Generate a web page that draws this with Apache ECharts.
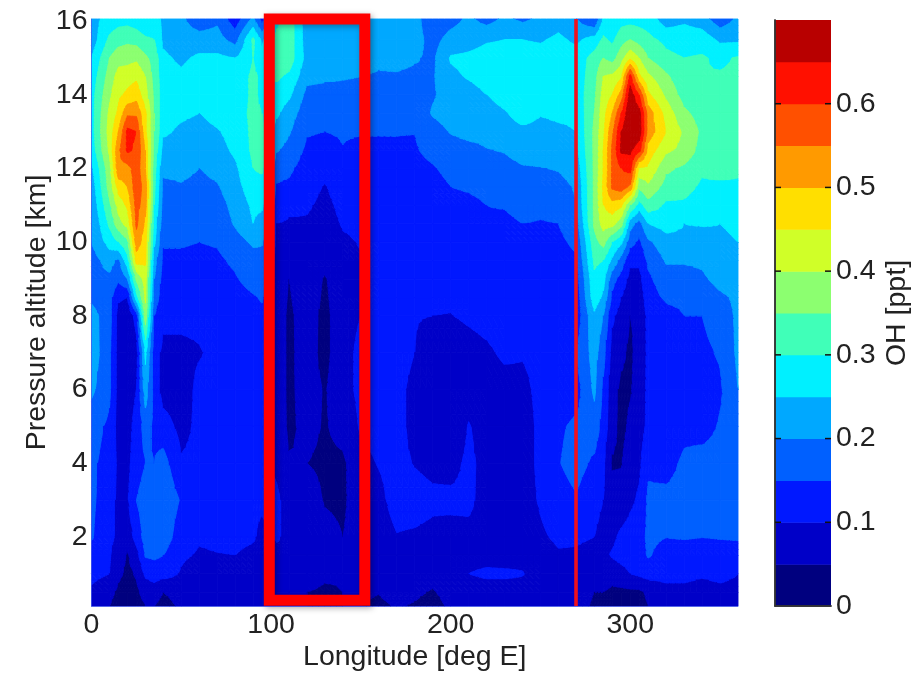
<!DOCTYPE html>
<html>
<head>
<meta charset="utf-8">
<title>OH</title>
<style>html,body{margin:0;padding:0;background:#fff}#c{width:920px;height:673px;filter:blur(0.45px)}</style>
<script src="https://cdn.jsdelivr.net/npm/echarts@6/dist/echarts.min.js"></script>
</head>
<body>
<div id="c"></div>
<script>
// Longitude [deg E] of each column
const longitudes = [0,10,15,20,25,30,35,40,50,60,70,80,90,95,103,110,120,130,140,150,160,170,180,190,200,210,220,230,240,250,260,270,280,285,290,295,300,305,310,320,330,340,350,360];
// Pressure altitude [km] of each value inside a column
const altitudes = [16.06,15.5,15,14.5,14,13.5,13,12.5,12,11.5,11,10.5,10,9.5,9,8.5,8,7,6,5,4,3,2,1.5,1,0.5,0.127];
// OH in hundredths of a ppt, one list per longitude
const ohColumns = [
[23,22,25,27,28,28,28,27,24,22,21,20,20,18,19,19,22,23,21,17,16,16,15.5,13,11.5,9,7.5],
[27,31,35,37,39,41,42,41,38,37,34,31,27,22,19,17,17,16,16,14,13,12,11,10.5,10,6.5,5],
[28,33,38,42,44,46,50,54,54,47,42,38,30,19,16,11,8,8,8,8,9,9,9.2,7.5,6,4,3],
[28,34,38,43,46,54,61.5,61,53,50,46,42,34,28,20,10,6,5,7,8,8.5,9.5,7,4.5,4,3,2],
[27,33,39,44,48,54,60,59,58,58,57,56,53,47,36,28,12,8,10,12,13,15,12,8,5.5,4,3],
[25,31,36,40,42,46,46,50,50,53,52,49,47,46,42,41,38,26,23,17,15,17,17,15.5,11,7,5],
[27,30,33,33,34,35,35,34,32,31,30,28,26,22,20,18,15,12,13,14,15,18,19,16,12,8,5],
[24,24,26,27,28,27,26,23,21,19,18,17,15.5,14,13,12,11,9,8,12,17,19,18,15,12,5,3],
[21,22,24,26,28,26,24,22,21.5,19.5,18,17,15.5,14,13,12,11,9,8,8.7,10.5,14.5,12,10.8,9.5,7,6],
[17,22,26,28,29,25,23,22,20,18.5,17,16,15,13.5,13,12,11,9.7,11,11,11,11.5,10.5,9.5,7,6.5,6],
[19,22,26,28,28,27,24.5,23,21.5,19.5,18,17,15.5,14,13,12,11,11,11.5,11,11,11,11,9.8,8,7,6],
[12,18,25,27,27,28,27,26,24,23,21.5,20.5,18,16,14.5,13,12,11,11,11,11,11,11,10,9,7,6],
[21,31,30,31,31,31,31,31,30,28,26,25,21,18,17,14.5,13,11,11,11,11,10.5,10.5,9,7,7,6],
[13,24,27,29,29,30,31,32,31,28,26,23,20.5,18,17,15.5,14,12,12,12,11.5,10.8,9,8.5,7,6,5],
[28,32,33,31,28,26,23,20.5,17,14.5,12.5,10,9,8.5,8,8,8,8,8,8.5,9,11,10.5,9,8,7.5,7],
[33,34,33,29,26,22.5,20.5,18.5,16,14,11,9.5,8.5,6,5,4.5,4,4,4,4,5.5,8,9,9,9,7,6],
[22,22,23,21.5,18.5,17,15.5,14,12.5,11.5,10.5,9.5,8.5,8,8,8,7.5,7,7,6.5,5,8,8.5,9,8,5,5],
[22,22,22,21,18,16.5,15,13,11.5,9.7,9,8.5,8,7,4.5,4,3.5,3.5,4.6,4.5,4,4.5,7,8,6,4,3],
[22,22,22,20.5,18,16,15.5,14.8,13,12,11,10.3,9.5,9,8.8,8.6,8.5,8.5,8.5,7,4,4,5,7,5.5,5,5],
[22,22,22,20,18,17,15.5,13.5,12.5,11.5,11,10.7,10.2,9.8,9.8,9.8,10,11,11,10.5,9,8.5,8,7.5,7,6,5],
[22,22,21,19.5,18,16.5,15.3,14,13,12.5,12,12,12,12,12,12,12,12,11.5,11,10.2,9,8,7.5,7,5.2,4],
[22,22,21.5,19.5,18,16.5,15.1,14.7,13.5,13,13,12.5,12,12,12,12,12,11.5,11,11,11,11.5,9.8,8.5,8,7,5.5],
[22,22,20.5,19,18,16.5,15.1,14.5,13.5,12.5,12,11.5,11,11,11,10.5,10.3,10,9,9,9.8,11.5,9.5,8.5,8,6,4.5],
[16,18,19,19.5,19.5,20.5,18,16.5,14.5,13,12.5,12,11.5,11.5,11,10.5,10,7,6.5,7,9,10.8,9,8,7,4.5,3],
[18,22,25.5,24,22,22,20.3,18,16.5,15,13.5,12.5,12,11.5,11,10.5,9.9,8,7.5,6,8.5,11,8.5,8,7.5,7,6],
[21,23,26,25.5,23,22.5,21.5,18.5,17,15.5,14,13,12.5,12,11.5,11,10.5,8.8,8,10.3,11,10.8,9,8.5,10,7.5,6.5],
[18,24.5,27,27,25,23,21.5,19.8,18,16,15,14.5,13.5,12.5,12,11.5,11,9.5,8.5,8,8.5,8.5,8.5,8.5,10.8,8,7],
[21,25,27,28,27,24.5,23,20.3,18.5,17,15.3,14,13,12.5,12,11.5,11,10.5,9,8,7.5,7.5,7.5,8,10.8,8,7],
[19,25,27,28,28,27,24,22,19.5,17.8,16.5,15,13.5,13,12.5,12,11.5,10.3,9,8,8,8,8,8.5,10.3,8,7],
[21,24.5,27,28,27,25.3,23.5,22,19.8,17.5,16,14.7,14,13,12.5,12,11.5,11,11,11,11,10.5,9.3,8,7.5,6.5,6],
[23,26,27,28,27.5,26,24,22.5,20.3,18.5,16.5,15,14,13,12.5,12,12,12,12,14.2,14.7,12.8,10.8,9.5,8.5,7.5,7],
[20,24,27,27,27,26,25,24,22,20.5,20,18,16,14.5,13,12,12,15.2,13,16,17,14.5,10.5,9.5,9,8,7.5],
[15,27,32,33,34,35,36,36,36,36,36,36,33,31,29,28,24,22,21,18,14,11,10,9,8,5,4],
[26,31,35,40,42,43,44,45,45,46,45,42,37,30,27,24,20,17,14,13,11,10,9,9,8,5,3],
[25,29,33,41,45,50,54,56,56,56,48,42,30,24,17,14,11,8,7,6.5,4.5,7,9,10.5,7,4,3],
[28,33,38,44,52,60,65,66,60,58,46,37,26,18,13,10,8,6,4,3.5,4.7,7,11,12,8,4,3],
[28,35,44,62,68,70,70,66,62,54,35,22,17,11,8.5,7,5,4,4.5,6,8,9,12,12.5,10,4,2.5],
[28,33,40,46,60,67,68,62,44,36,28,18,14,11,8.5,7.5,6,7,7.5,8,9,10.8,13,13,11,4,3],
[28,31,35,41,46,53,53,48,44,39,33,25,19,16,14,12.5,11.5,11,11,11,14,16,16,15.5,12,6,5],
[22,29,31,36,39,43,45,41,36,33,29,27,23,20.5,18,16,13,11,11,11,13,16.5,15.1,13,11,9,7],
[24,28,30,31,33,36,39,38.5,34,32,29,25,24,20.5,18,16,15,11.5,11,13.5,16,17,15.5,12,11,9,8],
[22,28,30.5,30,31,33,34,33,31,29,27,25.5,22,21,19,16,15,14,11,13,17,17,15.1,12,10.5,8.5,8],
[17,24,29,30.5,31,33,33,33,32,29,27,25,24,24,22,19,17,15.5,14.3,15.5,17,17,15.3,13,11,9,8],
[21,24,30.5,31,33,33,33,33,31,29,27,26,25,22.5,21.5,21,21,21,20,17,17,17,15.5,13,10,9,8]
];
// Contour levels [ppt] and their fill colours
const levels = [0,0.05,0.1,0.15,0.2,0.25,0.3,0.35,0.4,0.45,0.5,0.55,0.6,0.65,0.7];
const levelColors = ['#00007f','#0000c8','#0018ff','#0060ff','#00a8ff','#00f0ff','#40ffb8','#8cff70','#d0ff28','#ffdf00','#ff9a00','#ff5000','#ff1000','#b80000'];
const xTicks = [0,100,200,300];
const yTicks = [2,4,6,8,10,12,14,16];
const barTicks = [0,0.1,0.2,0.3,0.4,0.5,0.6];
// Highlight box corners and the marked meridian
const boxLongitudes = [99,152.2];
const boxAltitudes = [0.28,16.06];
const markedLongitude = 269.8;

const FONT = '"Liberation Sans", Arial, sans-serif';
const TEXT = '#222';
const LABEL = 28.5;
const SUBDIVISIONS = 3;

// One record per grid cell: lon0, lon1, alt0, alt1 and the four corner values
const cells = [];
for (let i = 0; i < longitudes.length - 1; i++) {
  for (let j = 0; j < altitudes.length - 1; j++) {
    cells.push([longitudes[i], longitudes[i+1], altitudes[j], altitudes[j+1],
      ohColumns[i][j]/100, ohColumns[i+1][j]/100, ohColumns[i][j+1]/100, ohColumns[i+1][j+1]/100]);
  }
}
function clip(poly, level, keepAbove) {
  const out = [];
  for (let k = 0; k < poly.length; k++) {
    const a = poly[k], b = poly[(k+1)%poly.length];
    const ia = keepAbove ? a[2] >= level : a[2] <= level;
    const ib = keepAbove ? b[2] >= level : b[2] <= level;
    if (ia) out.push(a);
    if (ia !== ib) {
      const t = (level - a[2]) / (b[2] - a[2]);
      out.push([a[0]+t*(b[0]-a[0]), a[1]+t*(b[1]-a[1]), level]);
    }
  }
  return out;
}
function bandOf(v) {
  for (let n = 0; n < levelColors.length; n++) if (v < levels[n+1]) return n;
  return levelColors.length - 1;
}
function renderCell(params, api) {
  const x0=api.value(0), x1=api.value(1), y0=api.value(2), y1=api.value(3);
  const v00=api.value(4), v10=api.value(5), v01=api.value(6), v11=api.value(7);
  const children = [];
  function add(points, n) {
    children.push({
      type:'polygon',
      shape:{points:points.map(function (q) { return api.coord([q[0],q[1]]); })},
      style:{fill:levelColors[n], stroke:levelColors[n], lineWidth:0.9}
    });
  }
  const n0 = bandOf(v00);
  if (n0 === bandOf(v10) && n0 === bandOf(v01) && n0 === bandOf(v11)) {
    add([[x0,y0],[x1,y0],[x1,y1],[x0,y1]], n0);
    return {type:'group', children:children};
  }
  function at(u, w) {
    return [x0+u*(x1-x0), y0+w*(y1-y0),
      (1-u)*(1-w)*v00 + u*(1-w)*v10 + (1-u)*w*v01 + u*w*v11];
  }
  for (let p = 0; p < SUBDIVISIONS; p++) {
    for (let q = 0; q < SUBDIVISIONS; q++) {
      const u0=p/SUBDIVISIONS, u1=(p+1)/SUBDIVISIONS, w0=q/SUBDIVISIONS, w1=(q+1)/SUBDIVISIONS;
      const a=at(u0,w0), b=at(u1,w0), c=at(u0,w1), d=at(u1,w1);
      [[a,b,d],[a,d,c]].forEach(function (tri) {
        for (let n = 0; n < levelColors.length; n++) {
          let poly = clip(tri, levels[n], true);
          if (poly.length < 3) continue;
          poly = clip(poly, levels[n+1], false);
          if (poly.length < 3) continue;
          add(poly, n);
        }
      });
    }
  }
  return {type:'group', children:children};
}
const barData = levelColors.map(function (col, n) { return [0, 1, levels[n], levels[n+1], n]; });
function renderBar(params, api) {
  const p0 = api.coord([api.value(0), api.value(2)]);
  const p1 = api.coord([api.value(1), api.value(3)]);
  return {type:'rect',
    shape:{x:p0[0], y:p1[1], width:p1[0]-p0[0], height:p0[1]-p1[1]+0.5},
    style:{fill:levelColors[api.value(4)]}};
}
function renderBarTick(params, api) {
  const l = api.coord([0, api.value(0)]), r = api.coord([1, api.value(0)]);
  const st = {stroke:'#111', lineWidth:1.5};
  return {type:'group', children:[
    {type:'line', shape:{x1:l[0], y1:l[1], x2:l[0]+6, y2:l[1]}, style:st},
    {type:'line', shape:{x1:r[0]-6, y1:r[1], x2:r[0], y2:r[1]}, style:st}
  ]};
}
const box = [
  [boxLongitudes[0],boxAltitudes[1]],[boxLongitudes[1],boxAltitudes[1]],
  [boxLongitudes[1],boxAltitudes[0]],[boxLongitudes[0],boxAltitudes[0]],
  [boxLongitudes[0],boxAltitudes[1]],[boxLongitudes[1],boxAltitudes[1]]
];
const frameAxis = {show:true, lineStyle:{color:'#333', width:1.5}};
const edgeAxis = {show:true, lineStyle:{color:'rgba(70,90,235,0.75)', width:1}};
const chart = echarts.init(document.getElementById('c'), null, {renderer:'canvas'});
chart.setOption({
  animation:false,
  backgroundColor:'#fff',
  textStyle:{fontFamily:FONT},
  grid:[
    {left:91.5, top:19, width:646.5, height:587, outerBoundsMode:'none'},
    {left:775, top:20, width:56, height:586, outerBoundsMode:'none'}
  ],
  xAxis:[
    {gridIndex:0, type:'value', min:0, max:360, interval:100, splitLine:{show:false},
     axisLine:edgeAxis, axisTick:{show:false}, z:5,
     axisLabel:{customValues:xTicks, fontSize:LABEL, color:TEXT, margin:5, fontFamily:FONT},
     name:'Longitude [deg E]', nameLocation:'middle', nameGap:37, nameMoveOverlap:false,
     nameTextStyle:{fontSize:LABEL, color:TEXT, fontFamily:FONT}},
    {gridIndex:1, type:'value', min:0, max:1, position:'bottom', splitLine:{show:false},
     axisLine:frameAxis, axisTick:{show:false}, axisLabel:{show:false}, z:5},
    {gridIndex:1, type:'value', min:0, max:1, position:'top', splitLine:{show:false},
     axisLine:frameAxis, axisTick:{show:false}, axisLabel:{show:false}, z:5}
  ],
  yAxis:[
    {gridIndex:0, type:'value', min:0.127, max:16.06, splitLine:{show:false},
     axisLine:edgeAxis, axisTick:{show:false}, z:5,
     axisLabel:{customValues:yTicks, fontSize:LABEL, color:TEXT, margin:4, fontFamily:FONT},
     name:'Pressure altitude [km]', nameLocation:'middle', nameGap:40, nameMoveOverlap:false,
     nameTextStyle:{fontSize:LABEL, color:TEXT, fontFamily:FONT}},
    {gridIndex:1, type:'value', min:0, max:0.7, position:'right', splitLine:{show:false},
     axisLine:frameAxis, z:5, axisTick:{show:false},
     axisLabel:{customValues:barTicks, fontSize:LABEL, color:TEXT, margin:5, fontFamily:FONT},
     name:'OH [ppt]', nameLocation:'middle', nameGap:52, nameRotate:90, nameMoveOverlap:false,
     nameTextStyle:{fontSize:LABEL, color:TEXT, fontFamily:FONT}},
    {gridIndex:1, type:'value', min:0, max:0.7, position:'left', splitLine:{show:false},
     axisLine:frameAxis, z:5, axisTick:{show:false}, axisLabel:{show:false}}
  ],
  series:[
    {type:'custom', xAxisIndex:0, yAxisIndex:0, data:cells, renderItem:renderCell,
     progressive:0, encode:{x:[0,1], y:[2,3]}, silent:true, z:1},
    {type:'line', xAxisIndex:0, yAxisIndex:0, data:[[markedLongitude,0.127],[markedLongitude,16.06]],
     symbol:'none', lineStyle:{color:'#f0101c', width:3.6}, silent:true, z:3},
    {type:'line', xAxisIndex:0, yAxisIndex:0, data:box, symbol:'none', clip:false,
     lineStyle:{color:'#ff0000', width:11, join:'miter', cap:'butt',
       shadowColor:'rgba(0,0,0,0.35)', shadowBlur:6, shadowOffsetX:2, shadowOffsetY:2},
     silent:true, z:4},
    {type:'custom', xAxisIndex:1, yAxisIndex:1, data:barData, renderItem:renderBar,
     encode:{x:[0,1], y:[2,3]}, silent:true, z:2},
    {type:'custom', xAxisIndex:1, yAxisIndex:1, data:barTicks.slice(1).map(function (v) { return [v]; }),
     renderItem:renderBarTick, encode:{y:0}, silent:true, z:6}
  ]
});
</script>
</body>
</html>
